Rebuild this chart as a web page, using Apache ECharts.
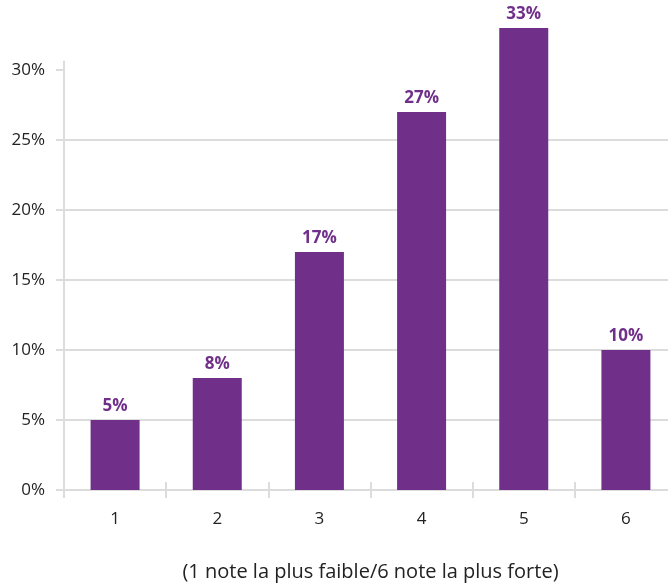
<!DOCTYPE html>
<html>
<head>
<meta charset="utf-8">
<script src="https://cdn.jsdelivr.net/npm/echarts@6/dist/echarts.min.js"></script>
<style>
  html, body { margin: 0; padding: 0; background: #fff; }
  #chart { width: 668px; height: 583px; }
</style>
</head>
<body>
<div id="chart"></div>
<script>
// Share of answers per score (1 = lowest, 6 = highest)
const categories = ['1', '2', '3', '4', '5', '6'];
const shares = [5, 8, 17, 27, 33, 10];
const yTicks = [0, 5, 10, 15, 20, 25, 30];
const axisTitle = '(1 note la plus faible/6 note la plus forte)';

const purple = '#70308a';
const gridGray = '#dcdcdc';
const textColor = '#222222';
const font = 'Open Sans';

const chart = echarts.init(document.getElementById('chart'));

chart.setOption({
  animation: false,
  grid: {
    left: 64, right: -9, top: 61.6, bottom: 93,
    containLabel: false,
    outerBoundsMode: 'none'
  },
  xAxis: [
    {
      type: 'category',
      data: categories,
      axisLine: { show: true, lineStyle: { color: gridGray, width: 2 } },
      axisTick: { show: false },
      axisLabel: { color: textColor, fontFamily: font, fontSize: 17, margin: 21 },
      name: axisTitle,
      nameLocation: 'middle',
      nameGap: 72,
      nameTextStyle: { color: textColor, fontFamily: font, fontSize: 20 }
    },
    {
      // category boundary ticks crossing the baseline
      type: 'category',
      data: categories,
      position: 'bottom',
      offset: -8,
      axisLine: { show: false },
      axisTick: { show: true, length: 16, interval: 0, lineStyle: { color: gridGray, width: 2 } },
      axisLabel: { show: false }
    }
  ],
  yAxis: {
    type: 'value',
    min: 0,
    max: 30.6,
    interval: 5,
    axisLine: { show: true, lineStyle: { color: gridGray, width: 2 } },
    axisTick: { show: true, length: 8, customValues: yTicks, lineStyle: { color: gridGray, width: 2 } },
    splitLine: { show: true, showMaxLine: false, lineStyle: { color: gridGray, width: 2 } },
    axisLabel: {
      customValues: yTicks,
      color: textColor,
      fontFamily: font,
      fontSize: 17,
      margin: 19,
      formatter: v => (v % 5 === 0 ? v + '%' : '')
    }
  },
  series: [
    {
      type: 'bar',
      data: shares,
      barWidth: 49,
      clip: false,
      itemStyle: { color: purple },
      label: {
        show: true,
        position: 'top',
        distance: 5,
        formatter: p => p.value + '%',
        color: purple,
        fontFamily: font,
        fontWeight: 'bold',
        fontSize: 17
      }
    }
  ]
});
</script>
</body>
</html>
